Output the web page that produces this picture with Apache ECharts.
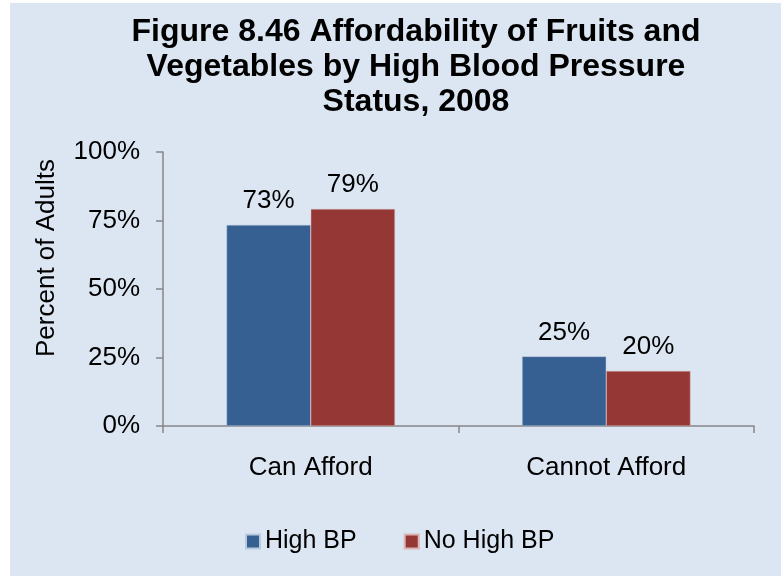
<!DOCTYPE html>
<html>
<head>
<meta charset="utf-8">
<script src="https://cdn.jsdelivr.net/npm/echarts@6/dist/echarts.min.js"></script>
<style>
  html, body { margin: 0; padding: 0; background: #ffffff; }
  #main { position: absolute; left: 10px; top: 3px; width: 771px; height: 573px; }
</style>
</head>
<body>
<div id="main"></div>
<script>
var categories = ['Can Afford', 'Cannot Afford'];
var highBP = [73.4, 25.4];
var noHighBP = [79.2, 20.1];
var yTicks = [0, 25, 50, 75, 100];

var myChart = echarts.init(document.getElementById('main'));

var font = 'Arial, "Liberation Sans", sans-serif';

option = {
	backgroundColor: '#dce6f2',
	textStyle: { fontFamily: font },
	title: {
		text: 'Figure 8.46 Affordability of Fruits and\nVegetables by High Blood Pressure\nStatus, 2008',
		left: 401,
		top: 7,
		textAlign: 'center',
		textStyle: {
			fontFamily: font,
			fontSize: 32,
			fontWeight: 'bold',
			color: '#000',
			lineHeight: 35
		}
	},
	legend: {
		data: ['High BP', 'No High BP'],
		left: 230,
		top: 521,
		icon: 'rect',
		itemWidth: 14,
		itemHeight: 14,
		itemGap: 47,
		textStyle: { fontFamily: font, fontSize: 25, color: '#000' }
	},
	grid: {
		left: 153,
		right: 27,
		top: 149,
		bottom: 150,
		containLabel: false
	},
	xAxis: {
		type: 'category',
		data: categories,
		axisLine: { lineStyle: { color: '#868686', width: 1.5 } },
		axisTick: { show: true, length: 7, lineStyle: { color: '#868686', width: 1.5 } },
		axisLabel: { fontSize: 26, color: '#000', margin: 29, fontFamily: font }
	},
	yAxis: {
		type: 'value',
		min: yTicks[0],
		max: yTicks[yTicks.length - 1],
		interval: 25,
		name: 'Percent of Adults',
		nameLocation: 'middle',
		nameGap: 103,
		nameTextStyle: { fontSize: 26, color: '#000', fontFamily: font, padding: [0, 0, 0, 62] },
		axisLine: { show: true, lineStyle: { color: '#868686', width: 1.5 } },
		axisTick: { show: true, length: 7, lineStyle: { color: '#868686', width: 1.5 } },
		splitLine: { show: false },
		axisLabel: {
			fontSize: 26,
			color: '#000',
			margin: 23,
			fontFamily: font,
			formatter: function (v) { return v + '%'; }
		}
	},
	series: [
		{
			name: 'High BP',
			type: 'bar',
			data: highBP,
			barGap: '0%',
			barCategoryGap: '43%',
			itemStyle: { color: '#365f92', borderColor: '#b9c9de', borderWidth: 0.5 },
			label: {
				show: true,
				position: 'top',
				distance: 11,
				fontSize: 26,
				color: '#000',
				fontFamily: font,
				formatter: function (p) { return Math.round(p.value) + '%'; }
			}
		},
		{
			name: 'No High BP',
			type: 'bar',
			data: noHighBP,
			itemStyle: { color: '#953735', borderColor: '#dbb3b3', borderWidth: 0.5 },
			label: {
				show: true,
				position: 'top',
				distance: 11,
				fontSize: 26,
				color: '#000',
				fontFamily: font,
				formatter: function (p) { return Math.round(p.value) + '%'; }
			}
		}
	]
};

myChart.setOption(option);
</script>
</body>
</html>
